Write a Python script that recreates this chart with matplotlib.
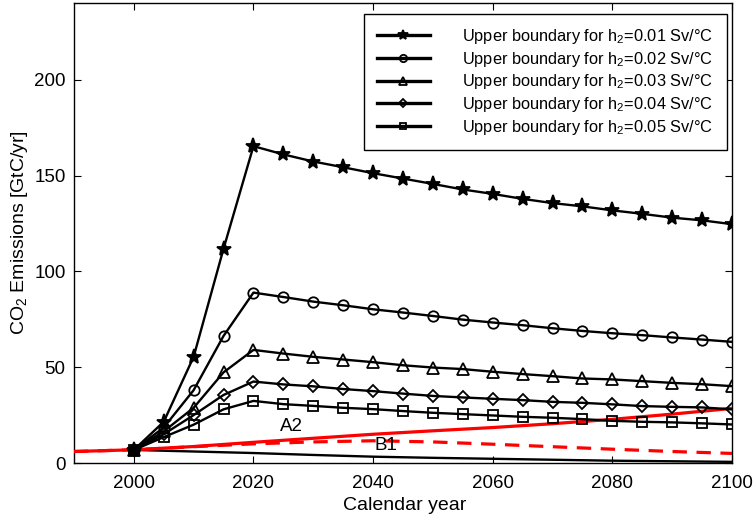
import matplotlib
matplotlib.use("Agg")
import matplotlib.pyplot as plt

plt.rcParams['font.family'] = ['Liberation Sans', 'DejaVu Sans']
plt.rcParams['mathtext.fontset'] = 'custom'
plt.rcParams['mathtext.rm'] = 'Liberation Sans'
plt.rcParams['mathtext.default'] = 'regular'

# Upper emission boundaries (GtC/yr) for each h2 value, every 5 years
years = list(range(2000, 2101, 5))
h2_labels = ["0.01", "0.02", "0.03", "0.04", "0.05"]
bound_001 = [6.8, 21.5, 55.4, 111.8, 165.3, 161.0, 157.3, 154.3, 151.2, 148.4,
             145.6, 142.7, 140.4, 137.8, 135.6, 133.9, 131.8, 130.0, 128.0, 126.6, 124.6]
bound_002 = [6.8, 18.5, 38.0, 66.3, 88.9, 86.6, 84.2, 82.3, 80.2, 78.5,
             76.7, 74.8, 73.3, 71.9, 70.3, 68.9, 67.7, 66.7, 65.5, 64.4, 63.2]
bound_003 = [6.8, 16.5, 28.8, 47.3, 59.0, 57.1, 55.4, 54.0, 52.6, 51.0,
             49.8, 49.0, 47.6, 46.4, 45.3, 44.1, 43.6, 42.7, 41.8, 41.1, 40.1]
bound_004 = [6.8, 15.0, 25.0, 35.5, 42.5, 41.0, 40.0, 38.6, 37.5, 36.2,
             35.0, 34.2, 33.5, 32.8, 31.9, 31.4, 30.6, 29.7, 29.3, 29.0, 28.0]
bound_005 = [6.8, 13.5, 20.0, 28.0, 32.4, 30.7, 29.8, 28.8, 28.1, 27.1,
             26.2, 25.5, 24.8, 24.1, 23.6, 22.9, 22.0, 21.5, 21.2, 20.7, 20.1]
bounds = [bound_001, bound_002, bound_003, bound_004, bound_005]

# SRES scenario emissions and the low-emission path
sres_years = [1990, 2000, 2010, 2020, 2030, 2040, 2050, 2060, 2070, 2080, 2090, 2100]
a2 = [6.0, 6.9, 8.6, 10.8, 12.9, 15.0, 16.8, 18.5, 20.5, 22.8, 25.5, 28.5]
b1 = [6.0, 6.9, 8.5, 10.0, 11.0, 11.6, 11.0, 9.8, 8.5, 7.2, 6.0, 5.0]
low_years = [2000, 2010, 2020, 2030, 2040, 2050, 2060, 2070, 2080, 2090, 2100]
low_path = [6.8, 6.0, 5.2, 4.2, 3.3, 2.7, 2.2, 1.7, 1.2, 0.9, 0.6]

markers = ['*', 'o', '^', 'D', 's']
msizes = [11, 7.5, 8.5, 6.5, 6.5]

fig = plt.figure(figsize=(7.54, 5.21), dpi=100)
ax = fig.add_axes([74 / 754, 58 / 521, 658 / 754, 460 / 521])

ax.plot(sres_years, a2, color='red', lw=2.3, zorder=3)
ax.plot(sres_years, b1, color='red', lw=2.3, ls=(0, (4.5, 3)), zorder=3)
ax.plot(low_years, low_path, color='black', lw=1.7, zorder=2)

for vals, lab, mk, ms in zip(bounds, h2_labels, markers, msizes):
    face = 'black' if mk == '*' else 'none'
    ax.plot(years, vals, color='black', lw=1.7, marker=mk, ms=ms,
            mfc=face, mec='black', mew=1.3, zorder=4,
            label=f"Upper boundary for $h_2$={lab} Sv/°C")

ax.text(2026.4, 19.3, "A2", fontsize=13.5, ha='center', va='center')
ax.text(2042.2, 8.9, "B1", fontsize=13.5, ha='center', va='center')

ax.set_xlim(1990, 2100)
ax.set_ylim(0, 240)
ax.set_xticks([2000, 2020, 2040, 2060, 2080, 2100])
ax.set_yticks([0, 50, 100, 150, 200])
ax.tick_params(direction='in', top=True, right=True, length=5, width=0.8,
               labelsize=13.5)
ax.tick_params(axis='x', pad=9)
ax.tick_params(axis='y', pad=6)
for sp in ax.spines.values():
    sp.set_linewidth(1.0)

ax.set_xlabel("Calendar year", fontsize=14)
ax.set_ylabel("CO$_2$ Emissions [GtC/yr]", fontsize=14)
ax.xaxis.set_label_coords((405 - 74) / 658, -(506 - 463) / 460)
ax.yaxis.set_label_coords(-(54) / 658, 0.5)
ax.xaxis.label.set_va('center')
ax.yaxis.label.set_va('center')

leg = ax.legend(loc='upper left', bbox_to_anchor=(364 / 754, 1 - 14 / 521),
                bbox_transform=fig.transFigure, fontsize=11.8, frameon=True,
                fancybox=False, edgecolor='black', framealpha=1,
                handlelength=3.2, handletextpad=2.0, labelspacing=0.22,
                borderpad=0.8, borderaxespad=0, markerscale=0.7)
leg.get_frame().set_linewidth(1.0)
for h in leg.legend_handles:
    h.set_linewidth(2.4)

fig.savefig("out.png", dpi=100)
